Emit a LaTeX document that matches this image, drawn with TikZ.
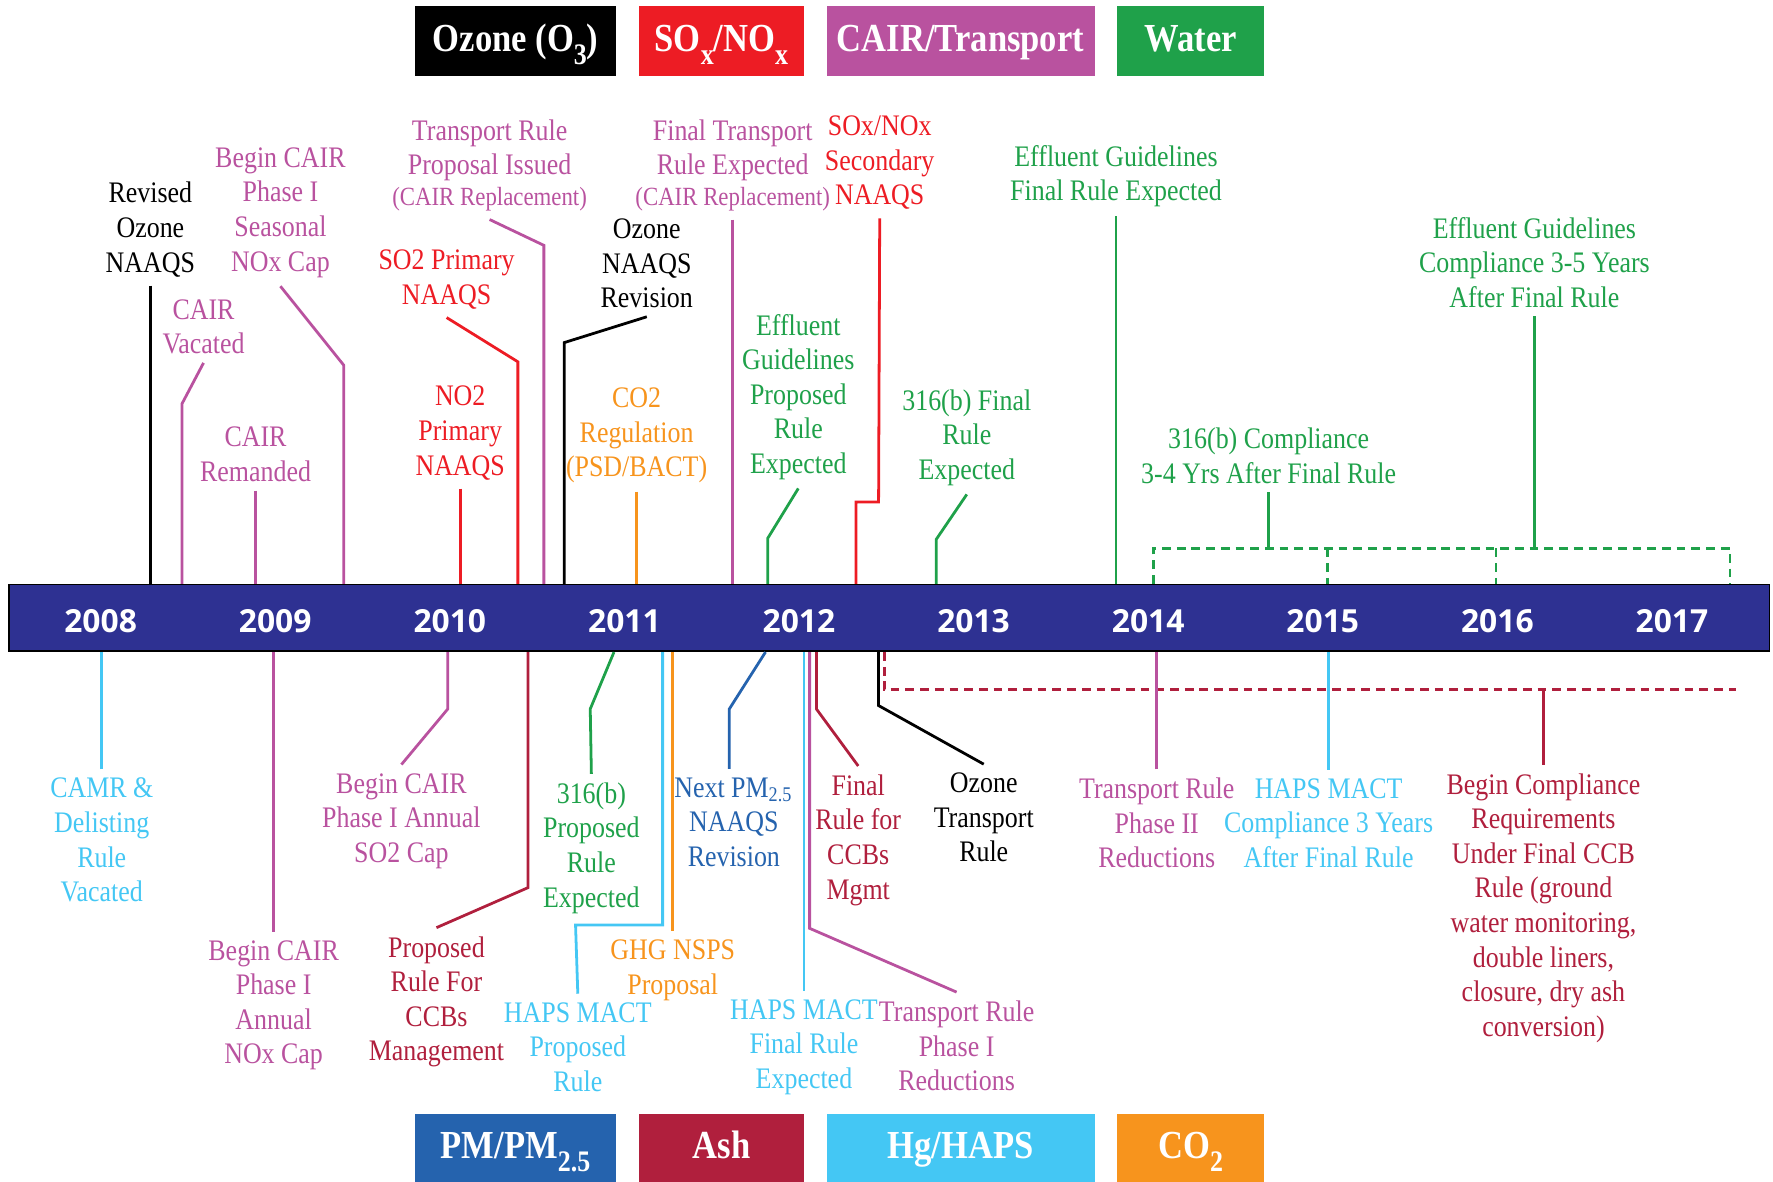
\documentclass[tikz,border=0pt]{standalone}
\usepackage{fontspec}
\setmainfont{Liberation Serif}[FakeStretch=0.87]
\newfontfamily\yearfont{Open Sans}
\usetikzlibrary{positioning}
\definecolor{ozone}{HTML}{000000}
\definecolor{sox}{HTML}{ED1C24}
\definecolor{cair}{HTML}{B9529F}
\definecolor{water}{HTML}{1FA14A}
\definecolor{pm}{HTML}{2563AE}
\definecolor{ash}{HTML}{B01F3D}
\definecolor{haps}{HTML}{44C7F4}
\definecolor{cotwo}{HTML}{F7941D}
\definecolor{navy}{HTML}{2E3192}
% dropped subscript used in the legend boxes
\newcommand{\lowsub}[1]{\raisebox{-0.7ex}{\fontsize{7.5}{8}\selectfont #1}}

\begin{document}
\begin{tikzpicture}[
  x=0.1mm, y=-0.1mm,
  evt/.style={text=#1, align=center, inner sep=2pt, font=\fontsize{7.5}{8.7}\selectfont},
  lnk/.style={draw=#1, line width=0.7pt},
  dashln/.style={dash pattern=on 2.2pt off 1.5pt},
  leg/.style={fill=#1, text=white, inner sep=0pt, outer sep=0pt, minimum height=6.2mm,
    text height=2.6mm, text depth=0.6mm, font=\bfseries\fontsize{10}{12}\selectfont},
  yr/.style={text=white, font=\yearfont\bfseries\fontsize{8}{9}\selectfont},
  node distance=2mm,
]
\useasboundingbox (0,0) rectangle (1568,1045);

% legend, top row
\node[leg=ozone, minimum width=17.8mm] (leg-ozone) at (456,36) {Ozone (O\lowsub{3})};
\node[leg=sox, minimum width=14.6mm, right=of leg-ozone] (leg-sox) {SO\lowsub{x}/NO\lowsub{x}};
\node[leg=cair, minimum width=23.7mm, right=of leg-sox] (leg-cair) {CAIR/Transport};
\node[leg=water, minimum width=13mm, right=of leg-cair] (leg-water) {Water};

% legend, bottom row
\node[leg=pm, minimum width=17.8mm, minimum height=6mm] (leg-pm) at (456,1015) {PM/PM\lowsub{2.5}};
\node[leg=ash, minimum width=14.6mm, minimum height=6mm, right=of leg-pm] (leg-ash) {Ash};
\node[leg=haps, minimum width=23.7mm, minimum height=6mm, right=of leg-ash] (leg-haps) {Hg/HAPS};
\node[leg=cotwo, minimum width=13mm, minimum height=6mm, right=of leg-haps] (leg-co2) {CO\lowsub{2}};

% the time bar
\node[fill=navy, draw=black, line width=0.4pt, minimum width=155.7mm, minimum height=5.9mm, inner sep=0] (bar) at (786.5,546.5) {};
\foreach \yr [count=\i from 0] in {2008,...,2017}
  \node[yr] (y\yr) at (89+154.4*\i, 549) {\yr};

% events above the bar
\node[evt=ozone] (rev) at (133,203) {Revised\\Ozone\\NAAQS};
\node[evt=cair] (vac) at (180,289) {CAIR\\Vacated};
\node[evt=cair] (seas) at (248,188) {Begin CAIR\\Phase I\\Seasonal\\NOx Cap};
\node[evt=cair] (rem) at (226,402) {CAIR\\Remanded};
\node[evt=cair] (trp) at (433,146) {Transport Rule\\Proposal Issued\\[-1pt]{\fontsize{6.6}{7.4}\selectfont(CAIR Replacement)}};
\node[evt=sox] (so2) at (395,247) {SO2 Primary\\NAAQS};
\node[evt=sox] (no2) at (407,383) {NO2\\Primary\\NAAQS};
\node[evt=ozone] (ozr) at (572,233) {Ozone\\NAAQS\\Revision};
\node[evt=cotwo] (co2r) at (563,385) {CO2\\Regulation\\(PSD/BACT)};
\node[evt=cair] (ftr) at (648,146) {Final Transport\\Rule Expected\\[-1pt]{\fontsize{6.6}{7.4}\selectfont(CAIR Replacement)}};
\node[evt=sox] (sec) at (778,144) {SOx/NOx\\Secondary\\NAAQS};
\node[evt=water] (efp) at (706,351) {Effluent\\Guidelines\\Proposed\\Rule\\Expected};
\node[evt=water] (f316) at (855,387) {316(b) Final\\Rule\\Expected};
\node[evt=water] (eff) at (987,156) {Effluent Guidelines\\Final Rule Expected};
\node[evt=water] (c316) at (1122,403) {316(b) Compliance\\3-4 Yrs After Final Rule};
\node[evt=water] (efc) at (1357,232) {Effluent Guidelines\\Compliance 3-5 Years\\After Final Rule};

\draw[lnk=ozone] (rev.south) -- (rev.south |- bar.north);
\draw[lnk=cair] (vac.south) -- (161,357) -- (161,357 |- bar.north);
\draw[lnk=cair] (seas.south) -- (304,323) -- (304,323 |- bar.north);
\draw[lnk=cair] (rem.south) -- (rem.south |- bar.north);
\draw[lnk=cair] (trp.south) -- (481,217) -- (481,217 |- bar.north);
\draw[lnk=sox] (so2.south) -- (458,320) -- (458,320 |- bar.north);
\draw[lnk=sox] (no2.south) -- (no2.south |- bar.north);
\draw[lnk=ozone] (ozr.south) -- (499,303) -- (499,303 |- bar.north);
\draw[lnk=cotwo] (co2r.south) -- (co2r.south |- bar.north);
\draw[lnk=cair] (ftr.south) -- (ftr.south |- bar.north);
\draw[lnk=sox] (sec.south) -- (777,444) -- (757,444) -- (757,444 |- bar.north);
\draw[lnk=water] (efp.south) -- (679,476) -- (679,476 |- bar.north);
\draw[lnk=water] (f316.south) -- (828,477) -- (828,477 |- bar.north);
\draw[lnk=water] (eff.south) -- (eff.south |- bar.north);

% compliance window 2014-2017
\coordinate (wb-l) at (1020,485);
\coordinate (wb-r) at (1530,485);
\draw[lnk=water, dashln] (wb-l |- bar.north) -- (wb-l) -- (wb-r) -- (wb-r |- bar.north);
\foreach \x in {1174,1323}
  \draw[lnk=water, dashln] (\x,485) -- (\x,485 |- bar.north);
\draw[lnk=water] (c316.south) -- (c316.south |- wb-l);
\draw[lnk=water] (efc.south) -- (efc.south |- wb-l);

% events below the bar
\node[evt=haps] (camr) at (90,743) {CAMR \&\\Delisting\\Rule\\Vacated};
\node[evt=cair] (anox) at (242,889) {Begin CAIR\\Phase I\\Annual\\NOx Cap};
\node[evt=cair] (aso2) at (355,726) {Begin CAIR\\Phase I Annual\\SO2 Cap};
\node[evt=ash] (pccb) at (386,886) {Proposed\\Rule For\\CCBs\\Management};
\node[evt=water] (p316) at (523,750) {316(b)\\Proposed\\Rule\\Expected};
\node[evt=haps] (hmp) at (511,926) {HAPS MACT\\Proposed\\Rule};
\node[evt=cotwo] (ghg) at (595,858) {GHG NSPS\\Proposal};
\node[evt=pm] (pmr) at (649,727) {Next PM\textsubscript{2.5}\\NAAQS\\Revision};
\node[evt=haps] (hmf) at (711,926) {HAPS MACT\\Final Rule\\Expected};
\node[evt=cair] (tp1) at (846,925) {Transport Rule\\Phase I\\Reductions};
\node[evt=ash] (fccb) at (759,743) {Final\\Rule for\\CCBs\\Mgmt};
\node[evt=ozone] (otr) at (870,723) {Ozone\\Transport\\Rule};
\node[evt=cair] (tp2) at (1023,728) {Transport Rule\\Phase II\\Reductions};
\node[evt=haps] (hmc) at (1175,728) {HAPS MACT\\Compliance 3 Years\\After Final Rule};
\node[evt=ash] (bcr) at (1365,803) {Begin Compliance\\Requirements\\Under Final CCB\\Rule (ground\\water monitoring,\\double liners,\\closure, dry ash\\conversion)};

% ash compliance window
\coordinate (ab-l) at (782,610);
\coordinate (ab-r) at (1535,610);
\draw[lnk=ash, dashln] (ab-l |- bar.south) -- (ab-l) -- (ab-r);

\draw[lnk=haps] (camr.north) -- (camr.north |- bar.south);
\draw[lnk=cair] (anox.north) -- (anox.north |- bar.south);
\draw[lnk=cair] (aso2.north) -- (396,627) -- (396,627 |- bar.south);
\draw[lnk=ash] (pccb.north) -- (467,785) -- (467,785 |- bar.south);
\draw[lnk=water] (p316.north) -- (522,627) -- (543,627 |- bar.south);
\draw[lnk=haps] (hmp.north) -- (509,818) -- (586,818) -- (586,818 |- bar.south);
\draw[lnk=cotwo] (ghg.north) -- (ghg.north |- bar.south);
\draw[lnk=pm] (645,627 |- pmr.north) -- (645,627) -- (677,627 |- bar.south);
\draw[lnk=haps] (hmf.north) -- (hmf.north |- bar.south);
\draw[lnk=cair] (tp1.north) -- (716,821) -- (716,821 |- bar.south);
\draw[lnk=ash] (fccb.north) -- (722,627) -- (722,627 |- bar.south);
\draw[lnk=ozone] (otr.north) -- (777,624) -- (777,624 |- bar.south);
\draw[lnk=cair] (tp2.north) -- (tp2.north |- bar.south);
\draw[lnk=haps] (hmc.north) -- (hmc.north |- bar.south);
\draw[lnk=ash] (bcr.north) -- (bcr.north |- ab-l);

\end{tikzpicture}
\end{document}
